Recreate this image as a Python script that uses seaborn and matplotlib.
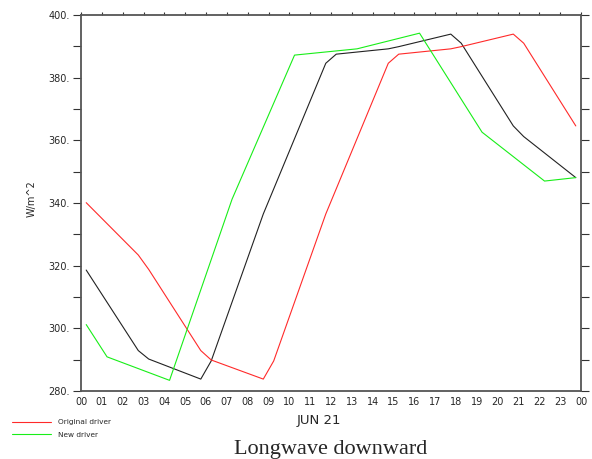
import numpy as np
import pandas as pd
import matplotlib
matplotlib.use("Agg")
import matplotlib.pyplot as plt
import seaborn as sns
from matplotlib.ticker import MultipleLocator, FuncFormatter, FixedLocator

# ---- data (hours since 00 UTC, JUN 21; W/m^2) ----
ctrl_hours = [0.25, 2.75, 3.25, 5.75, 6.25, 8.75, 9.25, 11.75, 12.25,
              14.75, 15.25, 17.75, 18.25, 20.75, 21.25, 23.75]
ctrl_values = [318.6, 292.9, 290.2, 283.8, 289.6, 336.5, 344.5, 384.6, 387.5,
               389.2, 389.9, 393.9, 391.0, 364.6, 361.2, 348.1]

orig_hours = [0.25, 2.75, 3.25, 5.75, 6.25, 8.75, 9.25, 11.75, 12.25,
              14.75, 15.25, 17.75, 18.25, 20.75, 21.25, 23.75]
orig_values = [340.1, 323.4, 318.8, 292.9, 289.9, 283.8, 289.6, 336.5, 344.5,
               384.6, 387.5, 389.2, 389.9, 393.9, 391.0, 364.6]

new_hours = [0.25, 1.25, 4.25, 7.25, 10.25, 13.25, 16.25, 19.25, 22.25, 23.75]
new_values = [301.2, 290.9, 283.4, 341.2, 387.2, 389.2, 394.2, 362.6, 347.0, 348.1]

series_names = ["Control", "Original driver", "New driver"]
xtick_labels = ["%02d" % (h % 24) for h in range(25)]

df = pd.concat([
    pd.DataFrame({"hour": ctrl_hours, "value": ctrl_values, "series": series_names[0]}),
    pd.DataFrame({"hour": orig_hours, "value": orig_values, "series": series_names[1]}),
    pd.DataFrame({"hour": new_hours, "value": new_values, "series": series_names[2]}),
], ignore_index=True)

sns.set_style("white")
plt.rcParams["font.family"] = ["DejaVu Sans"]

fig = plt.figure(figsize=(5.92, 4.59), dpi=100)
ax = fig.add_axes([81/592, 1-391/459, 500/592, 376/459])

palette = {series_names[0]: "#222222", series_names[1]: "#ff2a2a", series_names[2]: "#18ee18"}
sns.lineplot(data=df, x="hour", y="value", hue="series", palette=palette,
             hue_order=series_names, sort=False, estimator=None,
             linewidth=0.8, legend=False, ax=ax)

ax.set_xlim(0, 24)
ax.set_ylim(280, 400)
ax.xaxis.set_major_locator(FixedLocator(range(25)))
ax.set_xticklabels(xtick_labels)
ax.yaxis.set_major_locator(MultipleLocator(20))
ax.yaxis.set_minor_locator(MultipleLocator(10))
ax.yaxis.set_major_formatter(FuncFormatter(lambda v, p: "%d." % v))

for s in ax.spines.values():
    s.set_visible(True)
    s.set_color("#555555")
    s.set_linewidth(1.3)

ax.tick_params(axis="x", which="major", direction="out", length=2.5, width=0.8,
               color="#333333", labelsize=7, pad=2, top=True, labeltop=False)
ax.tick_params(axis="y", which="both", direction="out", length=5.5, width=0.8,
               color="#333333", labelsize=7, pad=2.5, left=True, right=True,
               labelright=False)

ax.set_xlabel("JUN 21", fontsize=9.5, labelpad=0)
ax.xaxis.set_label_coords((319 - 81) / 500, -23/376)
ax.xaxis.label.set_verticalalignment("top")
ax.set_ylabel("W/m^2", fontsize=7, labelpad=6)
ax.yaxis.set_label_coords(-0.088, (391 - 199) / 376)
ax.grid(False)

handles = [ax.lines[1], ax.lines[2]]
fig.legend(handles, series_names[1:], loc="upper left",
           bbox_to_anchor=(12/592, 1-419/459), frameon=False, fontsize=5.3,
           handlelength=5.3, handletextpad=0.9, labelspacing=0.85,
           borderpad=0, borderaxespad=0)

fig.text(331/592, 1-454/459, "Longwave downward", ha="center", va="baseline",
         fontsize=16, family="Liberation Serif")

fig.savefig("out.png", dpi=100)
